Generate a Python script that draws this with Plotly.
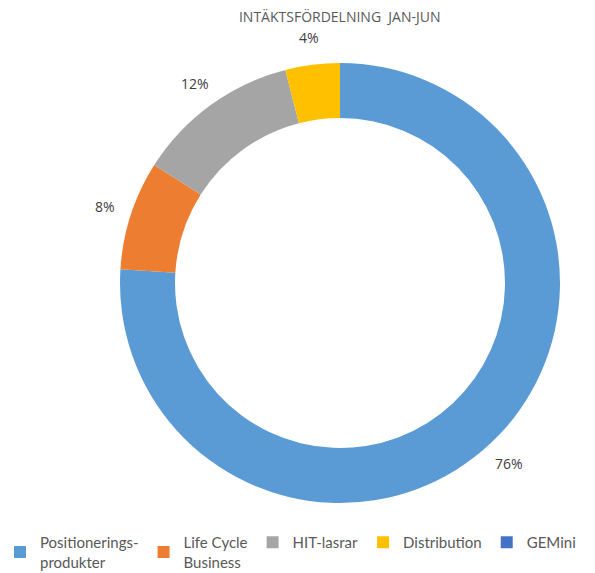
import math
import plotly.graph_objects as go

labels = ["Positionerings-<br>produkter", "Life Cycle<br>Business", "HIT-lasrar", "Distribution", "GEMini"]
values = [76, 8, 12, 4, 0]
colors = ["#5B9BD5", "#ED7D31", "#A5A5A5", "#FFC000", "#4472C4"]
text_labels = ["76%", "8%", "12%", "4%", ""]

W, H = 595, 573
cx, cy, R = 340, 283, 220  # pie centre / radius in pixels
dom_x = [(cx - R) / W, (cx + R) / W]
dom_y = [(H - cy - R) / H, (H - cy + R) / H]

fig = go.Figure(go.Pie(
    labels=labels,
    values=values,
    textinfo="none",
    marker=dict(colors=colors, line=dict(width=0)),
    hole=0.75,
    sort=False,
    direction="clockwise",
    rotation=0,
    domain=dict(x=dom_x, y=dom_y),
    showlegend=True,
    hoverinfo="label+percent",
))

# percentage labels placed outside the ring, at mid-angle of each slice
total = sum(values)
cum = 0
label_r = R + 27
for v, t in zip(values, text_labels):
    mid = (cum + v / 2) / total
    cum += v
    if not t:
        continue
    ang = math.pi / 2 - 2 * math.pi * mid
    px = cx + label_r * math.cos(ang)
    py = cy - label_r * math.sin(ang)
    fig.add_annotation(x=px / W, y=1 - py / H, xref="paper", yref="paper",
                       xanchor="center", yanchor="middle",
                       text=t, showarrow=False,
                       font=dict(size=14, color="#404040", family="Open Sans"))

fig.update_layout(
    width=W, height=H,
    margin=dict(l=0, r=0, t=0, b=0, autoexpand=False),
    paper_bgcolor="white",
    plot_bgcolor="white",
    font=dict(family="Open Sans", color="#595959"),
    title=dict(text="INTÄKTSFÖRDELNING  JAN-JUN", x=0.571, xanchor="center", y=0.97, yanchor="middle",
               font=dict(size=14, color="#595959")),
    legend=dict(orientation="h", x=0, xanchor="left", y=0.082, yanchor="top",
                font=dict(size=15, color="#595959", family="Lato"), itemsizing="constant",
                tracegroupgap=0),
)

fig.write_html("out.html", post_script="document.body.style.margin='0';",
               config={"displayModeBar": False})
